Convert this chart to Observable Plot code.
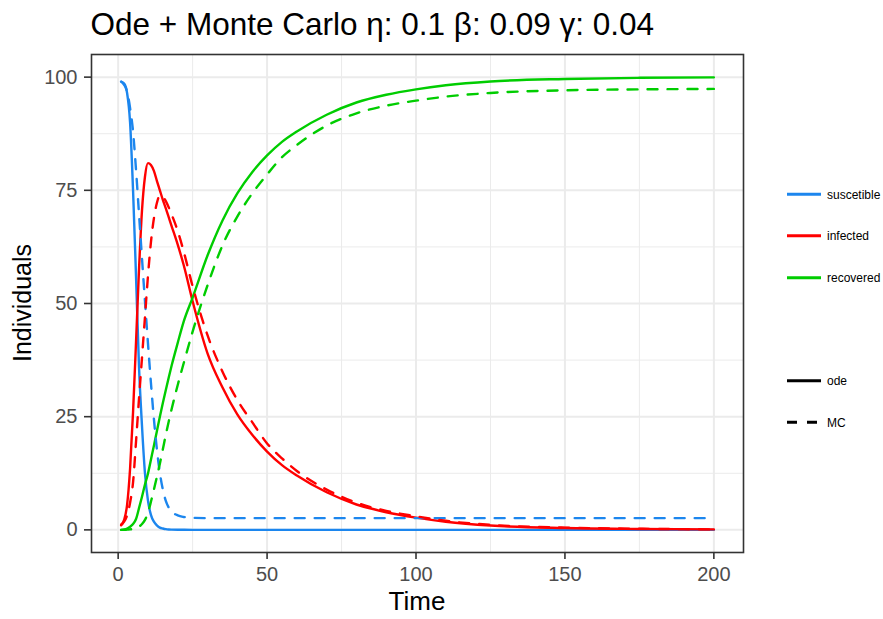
<!DOCTYPE html>
<html><head><meta charset="utf-8">
<script src="https://cdn.jsdelivr.net/npm/d3@7"></script>
<script src="https://cdn.jsdelivr.net/npm/@observablehq/plot@0.6"></script>
<style>
html,body{margin:0;padding:0;background:#fff;}
#chart{position:relative;width:883px;height:619px;}
</style></head><body><div id="chart"></div>
<script>
const time = [1,2,3,4,5,6,7,8,9,10,11,12,13,14,15,16,17,18,20,22,25,30,35,40,45,50,55,60,70,80,90,100,110,125,150,175,200];

const odeSusceptible = [99,98.6,96.5,90,75,56,36,23,12.5,6.5,3.3,1.8,1.0,0.5,0.3,0.15,0.08,0.05,0.02,0.01,0,0,0,0,0,0,0,0,0,0,0,0,0,0,0,0,0];
const odeInfected = [1,2.2,5.5,13.5,26,41.5,57.5,70.5,78,81,80.6,79.3,77.1,75,72.9,71,69,67,63,58.5,50.5,39,31.5,25.5,21,17.3,14.3,12,8.3,5.6,3.9,2.7,1.8,0.95,0.4,0.2,0.1];
const odeRecovered = [0,0.1,0.3,0.7,1.3,2.4,4.8,7.3,10,12.4,15.5,18.6,21.8,25,28,30.9,33.7,36.4,41.3,46,51.3,60.6,68.3,74.3,79,82.7,85.7,88,91.7,94.4,96.1,97.3,98.2,99.05,99.6,99.85,99.95];

const mcSusceptible = [99,98.3,96.8,93.2,88,79.5,69.8,60,50.5,41.3,32.5,24.5,17.8,12.6,8.9,6.4,4.9,4,3.2,2.85,2.65,2.6,2.6,2.6,2.6,2.6,2.6,2.6,2.6,2.6,2.6,2.6,2.6,2.6,2.6,2.6,2.6];
const mcInfected = [1.2,1.8,3.2,6,10.5,19.5,29,38,47,56,63.5,68.8,72.2,73.9,73.6,72.6,71.2,69.6,66,61.5,53.8,43,35,28.7,23.8,19.1,15.8,13,8.9,6,4.2,3,2,1.1,0.5,0.25,0.1];
const mcRecovered = [0,0,0.05,0.1,0.2,0.4,0.7,1.3,2.2,3.8,6.2,8.9,11.7,14.6,17.8,21,24,26.8,32,36.8,43.8,54,62.8,69.2,74.3,78.5,82.3,85,89.3,92,93.7,94.8,95.7,96.5,97.1,97.3,97.4];

const compartments = ["suscetible","infected","recovered"];
const methods = ["ode","MC"];
const colors = ["#1C86EE","#FF0000","#00CD00"];
const xTicks = [0,50,100,150,200];
const xMinor = [25,75,125,175];
const yTicks = [0,25,50,75,100];
const yMinor = [12.5,37.5,62.5,87.5];
const titleText = "Ode + Monte Carlo η: 0.1 β: 0.09 γ: 0.04";
const xTitle = "Time";
const yTitle = "Individuals";

const series = {ode: [odeSusceptible, odeInfected, odeRecovered], MC: [mcSusceptible, mcInfected, mcRecovered]};
const rows = [];
for (const m of methods) series[m].forEach((vals, k) => vals.forEach((v, i) => rows.push({t: time[i], v, compartment: compartments[k], method: m})));

const gridStyle = {stroke: "#EBEBEB", strokeOpacity: 1};
const plot = Plot.plot({
  width: 883, height: 619,
  marginTop: 54, marginBottom: 67, marginLeft: 91, marginRight: 140,
  style: {background: "white", fontFamily: "'Liberation Sans', Arial, sans-serif"},
  x: {domain: [-8.95, 209.95]},
  y: {domain: [-5, 105]},
  color: {domain: compartments, range: colors},
  marks: [
    Plot.gridX(xMinor, {...gridStyle, strokeWidth: 1}),
    Plot.gridY(yMinor, {...gridStyle, strokeWidth: 1}),
    Plot.gridX(xTicks, {...gridStyle, strokeWidth: 2}),
    Plot.gridY(yTicks, {...gridStyle, strokeWidth: 2}),
    Plot.line(rows.filter(d => d.method === "ode"), {x: "t", y: "v", z: "compartment", stroke: "compartment", strokeWidth: 2.4, curve: "monotone-x"}),
    Plot.line(rows.filter(d => d.method === "MC"), {x: "t", y: "v", z: "compartment", stroke: "compartment", strokeWidth: 2.4, strokeDasharray: "10,10", curve: "monotone-x"}),
    Plot.frame({stroke: "#333333", strokeWidth: 1.6}),
    Plot.axisX(xTicks, {tickSize: 7, tickPadding: 7, stroke: "#333333", strokeWidth: 1.6, fill: "#4D4D4D", fontSize: 20, label: null}),
    Plot.axisY(yTicks, {tickSize: 7, tickPadding: 7, stroke: "#333333", strokeWidth: 1.6, fill: "#4D4D4D", fontSize: 20, label: null})
  ]
});
document.getElementById("chart").appendChild(plot);

const svg = d3.select(plot);
const font = "'Liberation Sans', Arial, sans-serif";
svg.append("text").attr("x", 90.5).attr("y", 34.5).attr("text-anchor", "start").attr("font-size", 31.5).attr("font-family", font).attr("fill", "#000").text(titleText);
svg.append("text").attr("x", 417).attr("y", 610).attr("text-anchor", "middle").attr("font-size", 26).attr("font-family", font).attr("fill", "#000").text(xTitle);
svg.append("text").attr("transform", "translate(31,303) rotate(-90)").attr("text-anchor", "middle").attr("font-size", 25).attr("font-family", font).attr("fill", "#000").text(yTitle);

const legendItems = [
  {label: compartments[0], color: colors[0], dash: null, y: 194.3},
  {label: compartments[1], color: colors[1], dash: null, y: 235.7},
  {label: compartments[2], color: colors[2], dash: null, y: 277.7},
  {label: methods[0], color: "#000", dash: null, y: 380.7},
  {label: methods[1], color: "#000", dash: "10,10", y: 422.3}
];
const lg = svg.append("g").attr("font-family", font).attr("font-size", 12).attr("text-anchor", "start");
for (const it of legendItems) {
  const ln = lg.append("line").attr("x1", 787).attr("x2", 821).attr("y1", it.y).attr("y2", it.y).attr("stroke", it.color).attr("stroke-width", 3);
  if (it.dash) ln.attr("stroke-dasharray", it.dash);
  lg.append("text").attr("x", 827).attr("y", it.y).attr("dy", "0.35em").attr("fill", "#000").text(it.label);
}
</script></body></html>
